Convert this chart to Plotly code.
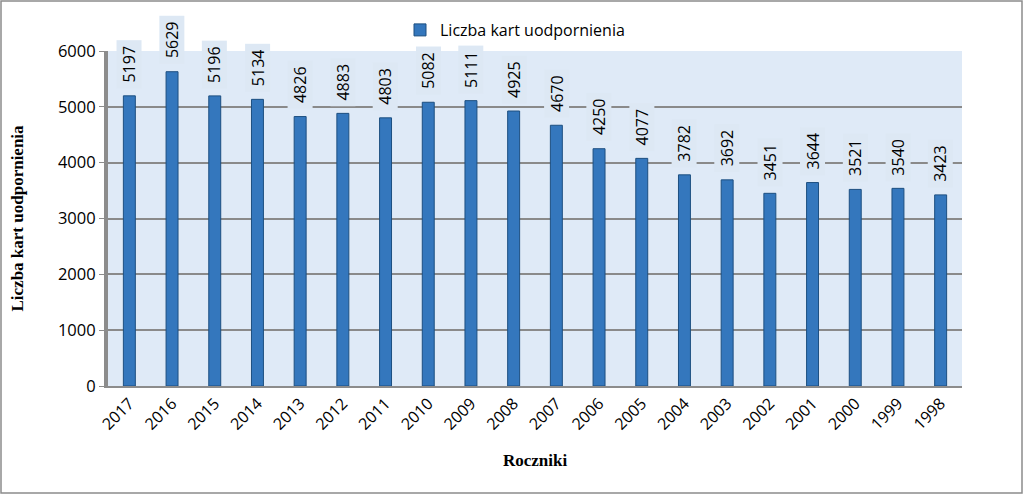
import plotly.graph_objects as go

years = ["2017", "2016", "2015", "2014", "2013", "2012", "2011", "2010", "2009", "2008",
         "2007", "2006", "2005", "2004", "2003", "2002", "2001", "2000", "1999", "1998"]
counts = [5197, 5629, 5196, 5134, 4826, 4883, 4803, 5082, 5111, 4925,
          4670, 4250, 4077, 3782, 3692, 3451, 3644, 3521, 3540, 3423]
series_name = "Liczba kart uodpornienia"
y_ticks = [0, 1000, 2000, 3000, 4000, 5000, 6000]

L, R, T, B = 108, 62, 51, 109
W, H = 1024, 495
pw, ph = W - L - R, H - T - B
FONT = "Open Sans, Liberation Sans, sans-serif"

fig = go.Figure()
fig.add_trace(go.Bar(
    x=years, y=counts, name=series_name,
    marker=dict(color="#3477bd", line=dict(color="#1d4f80", width=1)),
    width=0.28,
))

for i, v in enumerate(counts):
    fig.add_annotation(
        x=i, y=v, text="\u00a0" + str(v) + "\u00a0", textangle=-90, showarrow=False,
        yanchor="bottom", yshift=7, xanchor="center",
        font=dict(family=FONT, size=16, color="#000"),
        bgcolor="#dde8f4", borderpad=1,
    )

# axis titles
fig.add_annotation(xref="paper", yref="paper", x=-91 / pw, y=0.5, text="<b>Liczba kart uodpornienia</b>",
                   textangle=-90, showarrow=False, xanchor="center", yanchor="middle",
                   font=dict(family="Liberation Serif, Times New Roman, serif", size=17, color="#000"))
fig.add_annotation(xref="paper", yref="paper", x=0.5, y=-(460 - T - ph) / ph, text="<b>Roczniki</b>",
                   showarrow=False, xanchor="center", yanchor="middle",
                   font=dict(family="Liberation Serif, Times New Roman, serif", size=17, color="#000"))

# outer border
fig.add_shape(type="rect", xref="paper", yref="paper",
              x0=-(L - 1) / pw, x1=1 + (R - 2) / pw, y0=-(B - 2) / ph, y1=1 + (T - 1) / ph,
              line=dict(color="#8c8c8c", width=1.5), fillcolor="rgba(0,0,0,0)", layer="below")

fig.update_layout(
    width=W, height=H,
    margin=dict(l=L, r=R, t=T, b=B),
    paper_bgcolor="white", plot_bgcolor="#dfeaf7",
    showlegend=True,
    legend=dict(orientation="h", x=(515 - L) / pw, xanchor="center", y=1 + (T - 13) / ph, yanchor="top",
                font=dict(family=FONT, size=16, color="#000"),
                bgcolor="rgba(0,0,0,0)", itemwidth=30),
    xaxis=dict(type="category", tickangle=-45, showgrid=False, range=[-0.5, len(years) - 0.5],
               tickfont=dict(family=FONT, size=16, color="#000"),
               showline=True, linecolor="#8c8c8c", linewidth=2, ticks=""),
    yaxis=dict(range=[0, 6000], tickvals=y_ticks, showgrid=True, gridcolor="#8a8a8a", gridwidth=1.5,
               tickfont=dict(family=FONT, size=16.5, color="#000"),
               showline=True, linecolor="#8c8c8c", linewidth=4, ticks="outside", ticklen=5,
               tickcolor="#8c8c8c", zeroline=False),
    bargap=0.7,
)

fig.write_html("out.html")
